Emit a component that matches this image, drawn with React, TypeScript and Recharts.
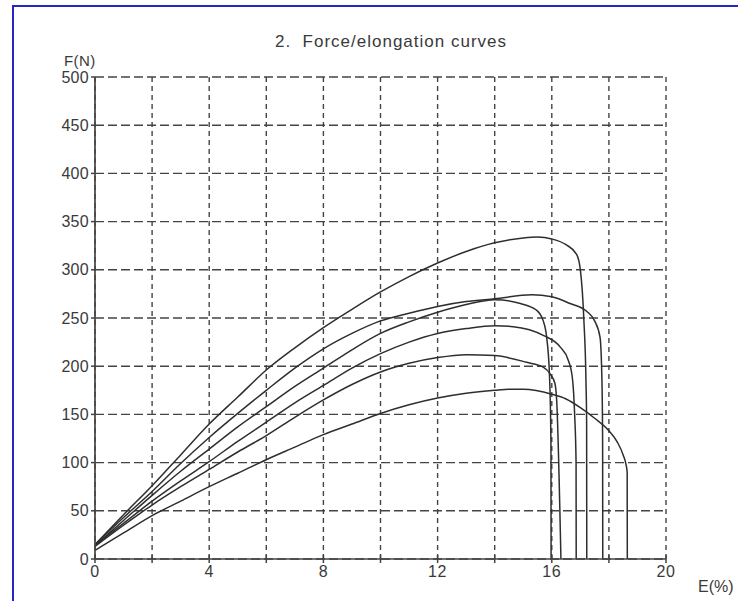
import { LineChart, Line, XAxis, YAxis, CartesianGrid } from 'recharts';

// force/elongation samples: [elongation %, force N]
const curveA: [number, number][] = [
  [0, 15], [1, 46], [2, 76], [3, 108], [4, 140], [5, 168], [6, 196], [7, 219], [8, 240],
  [9, 259], [10, 277], [11, 293], [12, 307], [13, 319], [14, 328], [15, 333], [15.5, 334],
  [16, 332], [16.5, 326], [16.87, 316], [17.0, 300], [17.12, 250], [17.2, 180], [17.22, 140], [17.225, 0],
];
const curveB: [number, number][] = [
  [0, 15], [1, 43], [2, 70], [3, 99], [4, 126], [5, 151], [6, 175], [7, 198], [8, 218],
  [9, 234], [10, 247], [11, 255], [12, 262], [13, 267], [14, 270], [15.3, 274], [16, 272],
  [16.64, 265], [17.22, 257], [17.5, 247], [17.69, 230], [17.76, 180], [17.78, 120], [17.785, 0],
];
const curveC: [number, number][] = [
  [0, 14], [1, 40], [2, 66], [3, 91], [4, 114], [5, 137], [6, 158], [7, 179], [8, 198],
  [9, 217], [10, 234], [11, 246], [12, 256], [13, 264], [14, 269], [14.9, 265], [15.47, 258],
  [15.7, 247], [15.82, 230], [15.92, 190], [15.97, 120], [15.975, 0],
];
const curveD: [number, number][] = [
  [0, 14], [1, 37], [2, 60], [3, 81], [4, 101], [5, 122], [6, 142], [7, 162], [8, 180],
  [9, 198], [10, 213], [11, 225], [12, 234], [13, 239], [14, 242], [14.65, 241], [15.7, 232],
  [16.29, 220], [16.58, 206], [16.72, 188], [16.8, 150], [16.85, 100], [16.855, 0],
];
const curveE: [number, number][] = [
  [0, 13], [1, 35], [2, 56], [3, 75], [4, 93], [5, 111], [6, 128], [7, 147], [8, 165],
  [9, 181], [10, 194], [11, 203], [12, 209], [13, 212], [14, 211], [15.12, 204], [15.7, 199],
  [15.94, 192], [16.11, 182], [16.17, 165], [16.32, 0],
];
const curveF: [number, number][] = [
  [0, 9], [1, 27], [2, 45], [3, 60], [4, 75], [5, 89], [6, 103], [7, 116], [8, 129],
  [9, 140], [10, 151], [11, 160], [12, 167], [13, 172], [14, 175], [14.5, 176], [15, 176],
  [16, 171], [16.5, 166], [17, 157], [17.5, 146], [18, 133], [18.3, 121], [18.5, 108],
  [18.6, 98], [18.64, 90], [18.645, 0],
];

const curves = [curveA, curveB, curveC, curveD, curveE, curveF];

const xTicks = [0, 2, 4, 6, 8, 10, 12, 14, 16, 18, 20];
const yTicks = [0, 50, 100, 150, 200, 250, 300, 350, 400, 450, 500];

const font = '"Liberation Sans", Arial, sans-serif';
const ink = '#3a3a3a';

function XTick(props: any) {
  const { x, y, payload } = props;
  const v = payload.value;
  return (
    <g>
      <line x1={x} x2={x} y1={y - 10} y2={y - 2} stroke="#444" strokeWidth={1.5} />
      {v % 4 === 0 && (
        <text x={x} y={y} dy={12} textAnchor="middle" fontSize={16} fill={ink}
          fontFamily={font} letterSpacing={0.6}>
          {v}
        </text>
      )}
    </g>
  );
}

export default function App() {
  return (
    <div style={{ position: 'absolute', left: 0, top: 0, width: 738, height: 601, background: '#fff' }}>
      <div style={{
        position: 'absolute', left: 12, top: 5, right: 0, bottom: 0,
        borderTop: '2px solid #2424c8', borderLeft: '2px solid #2424c8',
      }} />
      <LineChart width={738} height={601} margin={{ top: 77, right: 72, bottom: 12, left: 65 }}
        style={{ position: 'absolute', left: 0, top: 0 }}>
        <CartesianGrid vertical={false} stroke="#444" strokeWidth={1.4} strokeDasharray="9 4" />
        <CartesianGrid horizontal={false} stroke="#444" strokeWidth={1.4} strokeDasharray="5 4" />
        <XAxis
          type="number"
          dataKey="x"
          domain={[0, 20]}
          ticks={xTicks}
          interval={0}
          height={30}
          tickSize={4}
          tickMargin={2}
          tickLine={false}
          axisLine={{ stroke: '#444', strokeWidth: 1.7 }}
          tick={<XTick />}
          label={{ value: 'E(%)', position: 'right', offset: 32, fontSize: 16, fill: ink, fontFamily: font, dy: 12 }}
          allowDataOverflow
        />
        <YAxis
          type="number"
          domain={[0, 500]}
          ticks={yTicks}
          interval={0}
          width={30}
          tickSize={4}
          tickMargin={2}
          axisLine={{ stroke: '#444', strokeWidth: 1.7 }}
          tickLine={{ stroke: '#444', strokeWidth: 1.5 }}
          tick={{ fontSize: 16, fill: ink, fontFamily: font, letterSpacing: 0.3 }}
        />
        {curves.map((c, i) => (
          <Line
            key={i}
            data={c.map(([x, y]) => ({ x, y }))}
            dataKey="y"
            type="monotone"
            stroke="#2e2e2e"
            strokeWidth={1.5}
            dot={false}
            activeDot={false}
            isAnimationActive={false}
          />
        ))}
        <text x={391} y={47} textAnchor="middle" fontSize={17} fill={ink} fontFamily={font}
          letterSpacing={1}>
          {'2.\u00A0 Force/elongation curves'}
        </text>
        <text x={64} y={66} textAnchor="start" fontSize={15} fill={ink} fontFamily={font}
          letterSpacing={0.4}>
          F(N)
        </text>
      </LineChart>
    </div>
  );
}
